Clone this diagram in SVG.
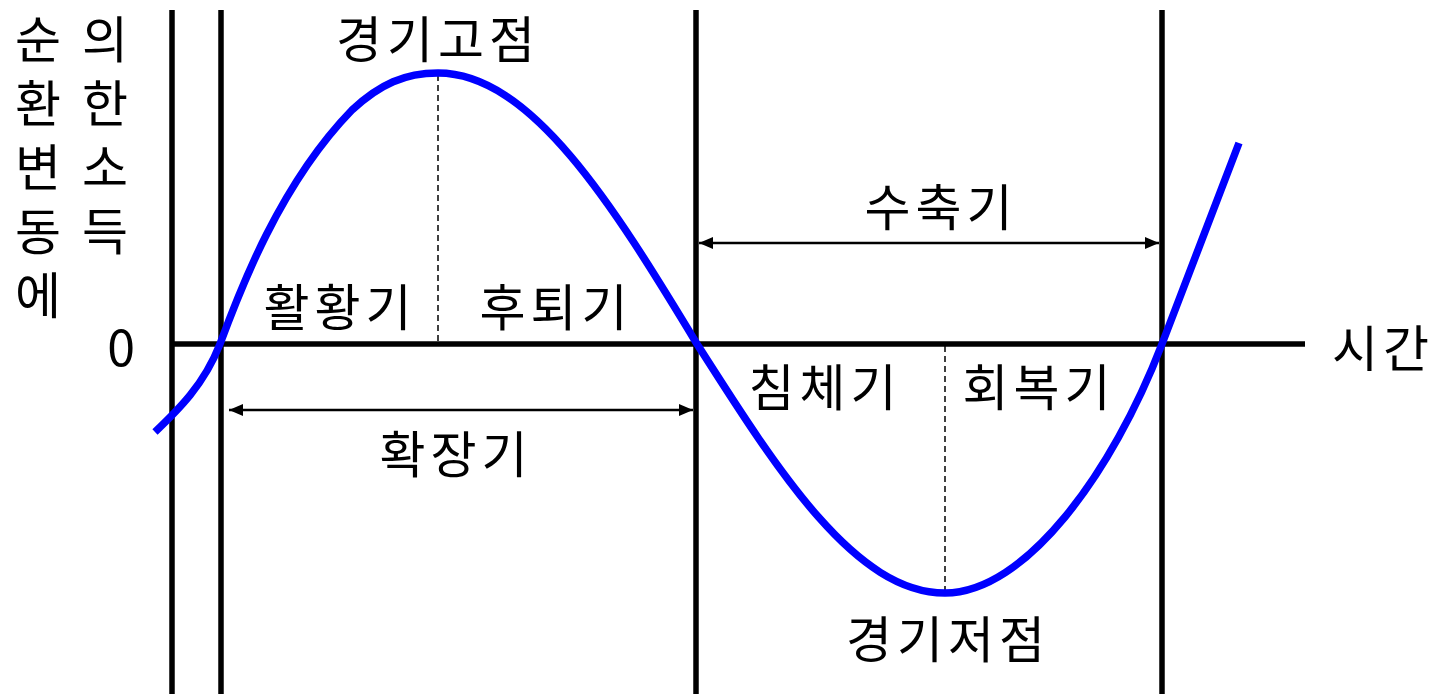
<svg xmlns="http://www.w3.org/2000/svg" width="1434" height="694" viewBox="0 0 1434 694">
<defs>
<marker id="ah" viewBox="0 0 14 12" refX="14" refY="6" markerWidth="14" markerHeight="12" markerUnits="userSpaceOnUse" orient="auto-start-reverse"><path d="M0,0 L14,6 L0,12 Z" fill="#000"/></marker>
<style>
text{font-family:"Noto Sans CJK KR","Noto Sans",sans-serif;font-size:50px;fill:#000;text-anchor:middle}
.ls{letter-spacing:5px}
.vt{writing-mode:vertical-rl;text-anchor:start;letter-spacing:14px}
.ax{stroke:#000;stroke-width:5.5;fill:none}
.dash{stroke:#000;stroke-width:1.5;stroke-dasharray:6,4;fill:none}
.arr{stroke:#000;stroke-width:2.5;fill:none;marker-start:url(#ah);marker-end:url(#ah)}
.curve{stroke:#0000ff;stroke-width:7.5;fill:none}
</style>
</defs>
<rect width="1434" height="694" fill="#fff"/>
<g id="axes">
<line class="ax" x1="172" y1="10" x2="172" y2="694"/>
<line class="ax" x1="221" y1="10" x2="221" y2="694"/>
<line class="ax" x1="696" y1="10" x2="696" y2="694"/>
<line class="ax" x1="1162" y1="10" x2="1162" y2="694"/>
<line class="ax" x1="172" y1="344" x2="1305" y2="344"/>
</g>
<g id="connectors">
<line class="dash" x1="438" y1="75" x2="438" y2="342"/>
<line class="dash" x1="945" y1="346" x2="945" y2="591"/>
<line class="arr" x1="699" y1="243" x2="1159" y2="243"/>
<line class="arr" x1="229" y1="410" x2="693" y2="410"/>
</g>
<g id="curve">
<path class="curve" d="M155,432 C178,410 204,385 220,344 C240,290 280,184 352,110 C380,84 405,73 438,73 C531,73 613,205 697,344 C778,471 855,593 945,593 C1025,593 1112,474 1162,344 L1239,143"/>
</g>
<g id="ylabel">
<text class="vt" x="38" y="14">순환변동에</text>
<text class="vt" x="105" y="14">의한소득</text>
</g>
<g id="zero"><text x="121" y="366">0</text></g>
<g id="xlabel"><text class="ls" x="1383" y="367">시간</text></g>
<g id="peak"><text class="ls" x="438" y="58">경기고점</text></g>
<g id="boom"><text class="ls" x="340" y="326">활황기</text></g>
<g id="recession"><text class="ls" x="556" y="326">후퇴기</text></g>
<g id="contraction"><text class="ls" x="941" y="226">수축기</text></g>
<g id="depression"><text class="ls" x="825" y="406">침체기</text></g>
<g id="recovery"><text class="ls" x="1039" y="406">회복기</text></g>
<g id="expansion"><text class="ls" x="456" y="473">확장기</text></g>
<g id="trough"><text class="ls" x="948" y="658">경기저점</text></g>
</svg>
